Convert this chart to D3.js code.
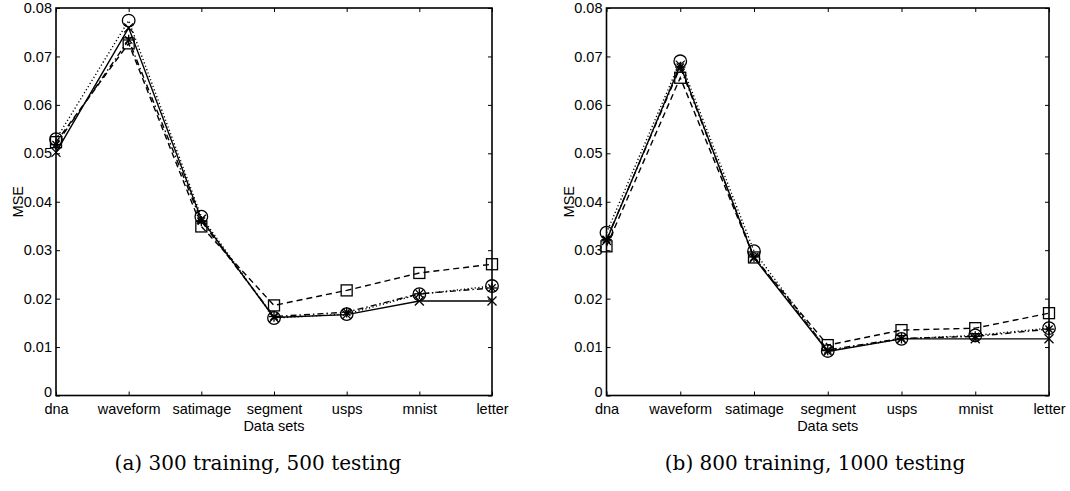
<!DOCTYPE html>
<html>
<head>
<meta charset="utf-8">
<script src="https://cdn.jsdelivr.net/npm/d3@7"></script>
<style>
  body { margin: 0; background: #fff; }
  svg { display: block; }
  .lbl { font-family: "Liberation Sans", Arial, sans-serif; font-size: 14.5px; fill: #000; }
  .caption { font-family: "DejaVu Serif", "Liberation Serif", serif; font-size: 20px; fill: #000; }
</style>
</head>
<body>
<svg id="chart" width="1070" height="491"></svg>
<script>
// data sets along x
var categories = ["dna", "waveform", "satimage", "segment", "usps", "mnist", "letter"];
var yTicks = [0, 0.01, 0.02, 0.03, 0.04, 0.05, 0.06, 0.07, 0.08];

// (a) 300 training, 500 testing
var aSquare   = [0.0523, 0.0727, 0.0349, 0.0186, 0.0217, 0.0253, 0.0271];
var aCircle   = [0.0529, 0.0774, 0.0369, 0.0160, 0.0168, 0.0209, 0.0226];
var aAsterisk = [0.0518, 0.0734, 0.0360, 0.0163, 0.0172, 0.0210, 0.0222];
var aCross    = [0.0502, 0.0759, 0.0364, 0.0161, 0.0167, 0.0195, 0.0195];

// (b) 800 training, 1000 testing
var bSquare   = [0.0308, 0.0656, 0.0285, 0.0104, 0.0135, 0.0139, 0.0170];
var bCircle   = [0.0336, 0.0690, 0.0298, 0.0092, 0.0117, 0.0124, 0.0139];
var bAsterisk = [0.0322, 0.0678, 0.0286, 0.0094, 0.0118, 0.0122, 0.0137];
var bCross    = [0.0320, 0.0682, 0.0284, 0.0091, 0.0117, 0.0117, 0.0117];

var svg = d3.select("#chart");

// line style per series marker
var styles = {
  square:   { dash: "6,4" },
  circle:   { dash: "1.2,2.4" },
  asterisk: { dash: "6,3,1.5,3" },
  cross:    { dash: null }
};

function drawMarker(g, kind, x, y) {
  if (kind === "square") {
    g.append("rect").attr("x", x - 5.5).attr("y", y - 5.5)
      .attr("width", 11).attr("height", 11);
  } else if (kind === "circle") {
    g.append("circle").attr("cx", x).attr("cy", y).attr("r", 6.3);
  } else if (kind === "asterisk") {
    [0, 45, 90, 135].forEach(function(a) {
      var r = a * Math.PI / 180, d = 5.2;
      g.append("line")
        .attr("x1", x - d * Math.cos(r)).attr("y1", y - d * Math.sin(r))
        .attr("x2", x + d * Math.cos(r)).attr("y2", y + d * Math.sin(r));
    });
  } else {
    var d = 4.5;
    g.append("line").attr("x1", x - d).attr("y1", y - d).attr("x2", x + d).attr("y2", y + d);
    g.append("line").attr("x1", x - d).attr("y1", y + d).attr("x2", x + d).attr("y2", y - d);
  }
}

function drawPanel(left, right, seriesList, caption, captionX) {
  var top = 8, bottom = 395.5;
  var x = d3.scalePoint().domain(categories).range([left, right]);
  var y = d3.scaleLinear().domain([0, 0.08]).range([bottom, top]);
  var g = svg.append("g");

  // axes box with inward ticks on all sides
  g.append("g").attr("transform", "translate(0," + bottom + ")")
    .call(d3.axisBottom(x).tickSizeInner(-4).tickSizeOuter(0).tickPadding(8))
    .call(function(s) { s.select(".domain").remove(); });
  g.append("g").attr("transform", "translate(0," + top + ")")
    .call(d3.axisTop(x).tickSizeInner(-4).tickSizeOuter(0).tickFormat(""))
    .call(function(s) { s.select(".domain").remove(); });
  var yAxis = g.append("g").attr("transform", "translate(" + left + ",0)")
    .call(d3.axisLeft(y).tickValues(yTicks).tickSizeInner(-4).tickSizeOuter(0).tickPadding(4)
      .tickFormat(function(d) { return d === 0 ? "0" : d3.format(".2f")(d); }))
    .call(function(s) { s.select(".domain").remove(); });
  // the "0" sits just above the category labels
  yAxis.selectAll(".tick text").filter(function(d) { return d === 0; }).attr("y", -4);
  g.append("g").attr("transform", "translate(" + right + ",0)")
    .call(d3.axisRight(y).tickValues(yTicks).tickSizeInner(-4).tickSizeOuter(0).tickFormat(""))
    .call(function(s) { s.select(".domain").remove(); });
  g.selectAll("g").attr("font-family", null).attr("font-size", null);
  g.selectAll(".tick line").attr("stroke", "#000").attr("stroke-width", 1);
  g.selectAll(".tick text").attr("class", "lbl").attr("fill", "#000");
  g.append("rect").attr("x", left).attr("y", top)
    .attr("width", right - left).attr("height", bottom - top)
    .attr("fill", "none").attr("stroke", "#000").attr("stroke-width", 1.6);

  var line = d3.line().x(function(d, i) { return x(categories[i]); }).y(function(d) { return y(d); });

  seriesList.forEach(function(s) {
    var st = styles[s.kind];
    g.append("path").datum(s.values)
      .attr("d", line)
      .attr("fill", "none").attr("stroke", "#000").attr("stroke-width", 1.4)
      .attr("stroke-dasharray", st.dash);
    var mg = g.append("g").attr("fill", "none").attr("stroke", "#000").attr("stroke-width", 1.3);
    s.values.forEach(function(v, i) { drawMarker(mg, s.kind, x(categories[i]), y(v)); });
  });

  g.append("text").attr("class", "lbl")
    .attr("transform", "translate(" + (left - 33) + "," + ((top + bottom) / 2) + ") rotate(-90)")
    .attr("text-anchor", "middle").text("MSE");
  g.append("text").attr("class", "lbl")
    .attr("x", (left + right) / 2).attr("y", 431)
    .attr("text-anchor", "middle").text("Data sets");
  g.append("text").attr("class", "caption")
    .attr("x", captionX).attr("y", 470)
    .attr("text-anchor", "middle").text(caption);
}

drawPanel(56, 492,
  [{ kind: "square", values: aSquare }, { kind: "circle", values: aCircle },
   { kind: "asterisk", values: aAsterisk }, { kind: "cross", values: aCross }],
  "(a) 300 training, 500 testing", 258);

drawPanel(606.5, 1049,
  [{ kind: "square", values: bSquare }, { kind: "circle", values: bCircle },
   { kind: "asterisk", values: bAsterisk }, { kind: "cross", values: bCross }],
  "(b) 800 training, 1000 testing", 815);
</script>
</body>
</html>
